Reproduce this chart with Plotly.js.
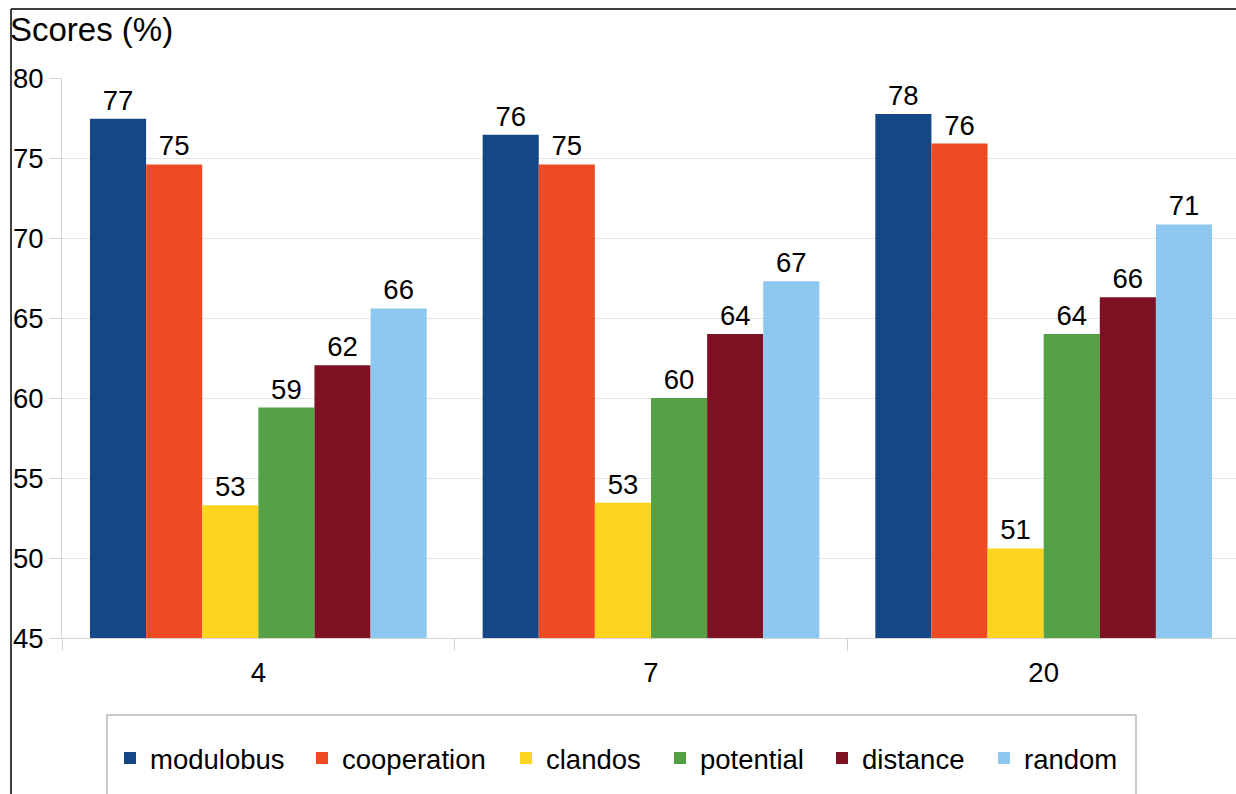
<!DOCTYPE html>
<html>
<head>
<meta charset="utf-8">
<script src="https://cdn.plot.ly/plotly-3.0.1.min.js"></script>
<style>
  html, body { margin: 0; padding: 0; background: #ffffff; overflow: hidden; }
  #chart { width: 1240px; height: 794px; }
</style>
</head>
<body>
<div id="chart"></div>
<script>
// ---- data ----
const categories = ["4", "7", "20"];
const seriesNames = ["modulobus", "cooperation", "clandos", "potential", "distance", "random"];
const modulobus   = [77.45, 76.45, 77.75];
const cooperation = [74.6, 74.6, 75.9];
const clandos     = [53.3, 53.45, 50.6];
const potential   = [59.4, 60.0, 64.0];
const distance    = [62.05, 64.0, 66.3];
const random      = [65.6, 67.3, 70.85];
const seriesColors = ["#154785", "#F04A23", "#FDD41F", "#56A045", "#7E1224", "#8EC8EE"];
const yTitle = "Scores (%)";

// legend entry widths (style only)
const legendWidths = [147, 159, 109, 117, 117, 110];

const seriesValues = [modulobus, cooperation, clandos, potential, distance, random];

const font = "'Liberation Sans', Arial, sans-serif";
const FS = 27.5;

const traces = seriesNames.map((name, i) => ({
  type: "bar",
  name: name,
  x: categories,
  y: seriesValues[i],
  marker: { color: seriesColors[i], line: { width: 0 } },
  texttemplate: "%{y:.0f}",
  textposition: "outside",
  textangle: 0,
  constraintext: "none",
  cliponaxis: false,
  textfont: { family: font, size: FS, color: "#000000" },
  legendwidth: legendWidths[i],
  hoverinfo: "skip"
}));

const L = 62, T = 78, W = 1240, H = 794, PW = W - L, PH = 560;
const px = v => (v - L) / PW;
const py = v => (T + PH - v) / PH;

const layout = {
  width: W,
  height: H,
  margin: { l: L, r: 0, t: T, b: H - T - PH, pad: 0 },
  paper_bgcolor: "#ffffff",
  plot_bgcolor: "#ffffff",
  font: { family: font, size: FS, color: "#000000" },
  barmode: "group",
  bargap: 0.1425,
  bargroupgap: 0,
  showlegend: true,
  title: {
    text: yTitle,
    x: 10 / W, xanchor: "left", xref: "container",
    y: 1 - 29 / H, yanchor: "middle", yref: "container",
    font: { family: font, size: 33, color: "#000000" }
  },
  xaxis: {
    type: "category",
    showgrid: false,
    showline: true, linecolor: "#d4d4d4", linewidth: 1,
    ticks: "outside", tickson: "boundaries", ticklen: 12, tickcolor: "#d4d4d4", tickwidth: 1,
    ticklabelstandoff: 10,
    tickfont: { family: font, size: FS, color: "#000000" },
    zeroline: false,
    fixedrange: true
  },
  yaxis: {
    range: [45, 80],
    dtick: 5, tick0: 45,
    showgrid: true, gridcolor: "#e3e3e3", gridwidth: 1,
    showline: true, linecolor: "#d4d4d4", linewidth: 1,
    ticks: "outside", ticklen: 12, tickcolor: "#d4d4d4", tickwidth: 1,
    tickfont: { family: font, size: FS, color: "#000000" },
    zeroline: false,
    fixedrange: true
  },
  legend: {
    orientation: "h",
    x: px(110), xanchor: "left",
    y: py(758), yanchor: "middle",
    font: { family: font, size: FS, color: "#000000" },
    bgcolor: "rgba(0,0,0,0)",
    borderwidth: 0,
    traceorder: "normal"
  },
  shapes: [
    // legend frame
    { type: "rect", xref: "paper", yref: "paper", x0: px(107), x1: px(1136), y0: py(715), y1: py(820),
      line: { color: "#b8b8b8", width: 1.5 }, fillcolor: "rgba(0,0,0,0)", layer: "below" },
    // outer frame lines (top and left)
    { type: "line", xref: "paper", yref: "paper", x0: px(11), x1: px(1240), y0: py(9), y1: py(9),
      line: { color: "#000000", width: 1.5 } },
    { type: "line", xref: "paper", yref: "paper", x0: px(11), x1: px(11), y0: py(9), y1: py(800),
      line: { color: "#000000", width: 1.5 } }
  ]
};

Plotly.newPlot("chart", traces, layout, { staticPlot: true, displayModeBar: false });
</script>
</body>
</html>
